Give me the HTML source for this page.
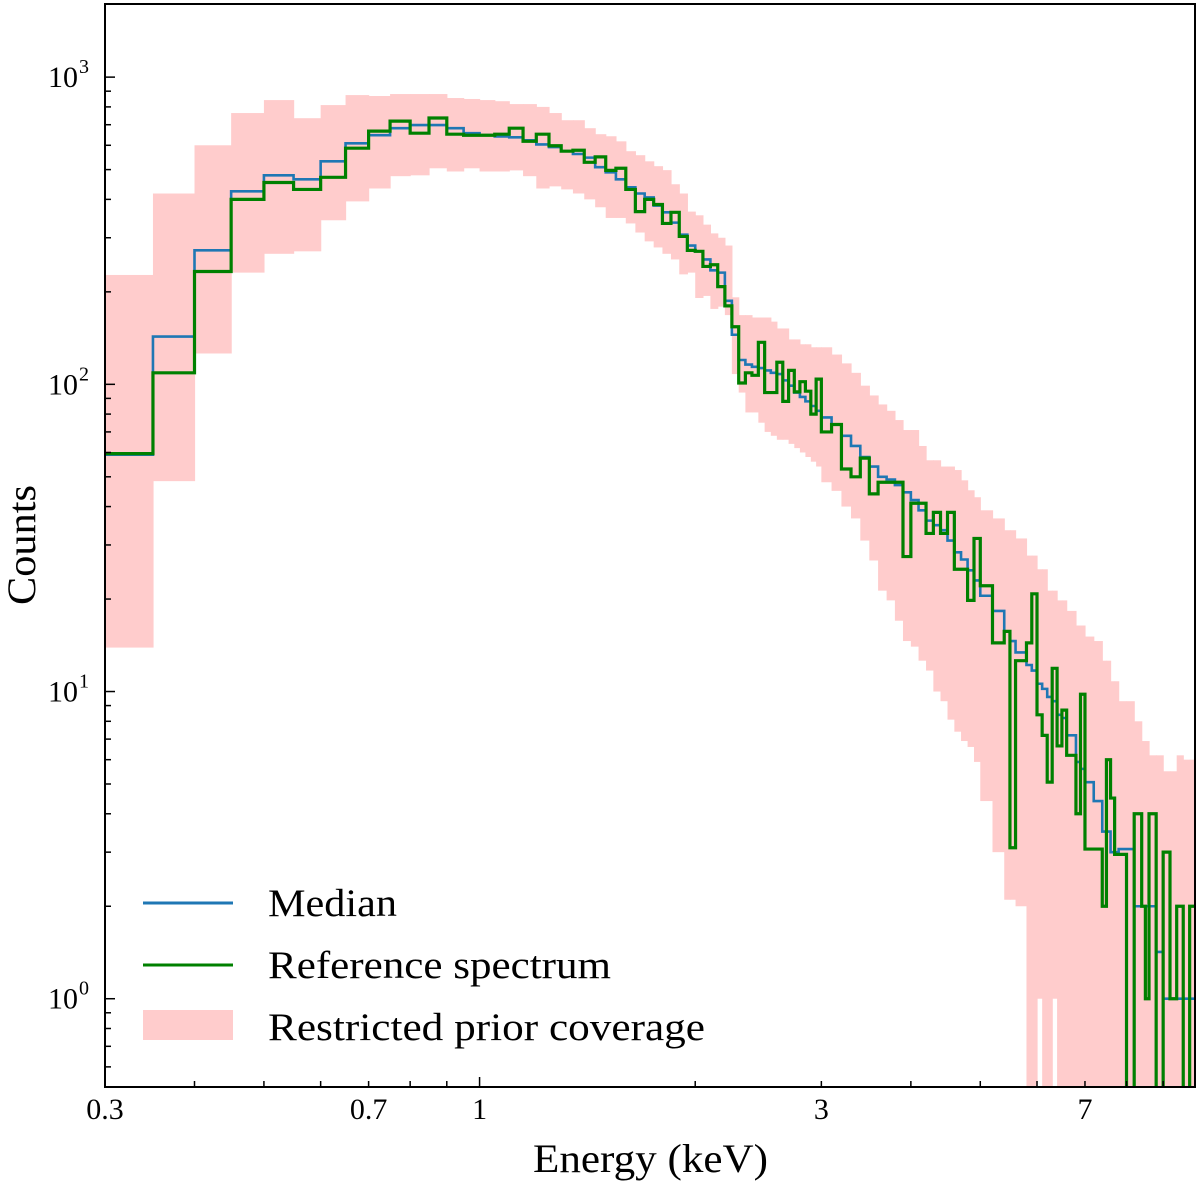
<!DOCTYPE html>
<html><head><meta charset="utf-8"><style>
body{margin:0;background:#fff;}
svg text{font-family:"Liberation Serif",serif;fill:#000;}
</style></head><body>
<svg id="chart" width="1200" height="1183" viewBox="0 0 1200 1183" xmlns="http://www.w3.org/2000/svg">
<defs><clipPath id="plotclip"><rect x="105" y="4" width="1090" height="1083"/></clipPath></defs>
<g id="band" clip-path="url(#plotclip)"></g>
<g id="lines" clip-path="url(#plotclip)"></g>
<g id="axes"></g>
<g id="legend">
  <line x1="143" y1="903" x2="233" y2="903" stroke="#1f77b4" stroke-width="3"/>
  <text x="268" y="916" font-size="39" textLength="129" lengthAdjust="spacingAndGlyphs">Median</text>
  <line x1="143" y1="965" x2="233" y2="965" stroke="#008000" stroke-width="3"/>
  <text x="268" y="978" font-size="39" textLength="343" lengthAdjust="spacingAndGlyphs">Reference spectrum</text>
  <rect x="143" y="1010" width="90" height="30" fill="#ffcccc"/>
  <text x="268" y="1040" font-size="39" textLength="437" lengthAdjust="spacingAndGlyphs">Restricted prior coverage</text>
</g>
<text x="533" y="1172" font-size="40" textLength="235" lengthAdjust="spacingAndGlyphs">Energy (keV)</text>
<text transform="translate(35,605) rotate(-90)" font-size="40" textLength="120" lengthAdjust="spacingAndGlyphs">Counts</text>
</svg>
<script>
const edges = [0.30,0.35,0.40,0.45,0.50,0.55,0.60,0.65,0.70,0.75,0.80,0.85,0.90,0.95,1.00,1.05,1.10,1.15,1.20,1.25,1.30,1.35,1.40,1.45,1.50,1.55,1.60,1.65,1.70,1.75,1.80,1.85,1.90,1.95,2.00,2.05,2.10,2.15,2.20,2.25,2.30,2.35,2.40,2.45,2.50,2.55,2.60,2.65,2.70,2.75,2.80,2.85,2.90,2.95,3.0,3.1,3.2,3.3,3.4,3.5,3.6,3.7,3.8,3.9,4.0,4.1,4.2,4.3,4.4,4.5,4.6,4.7,4.8,4.9,5.0,5.2,5.4,5.5,5.6,5.8,5.9,6.0,6.1,6.2,6.3,6.4,6.5,6.6,6.8,6.9,7.0,7.2,7.4,7.5,7.6,7.7,7.8,8.0,8.2,8.4,8.5,8.6,8.8,9.0,9.2,9.4,9.6,9.8,9.97];
const median = [59,143,273,425,479,465,532,609,647,682,698,698,682,657,647,641,637,623,604,592,574,562,547,509,490,465,438,418,406,382,363,336,307,283,271,255,235,231,187,145,120,116,114,113,111,109,108,103,99,94,91,88,85,82,78,74,68,63,58,54,50,49,47,44.5,42,38.9,36,34.8,33.5,31,28.4,26.9,24.8,23,20.5,18.3,15.7,14.6,13.4,12.2,11.7,10.6,10.2,9.6,9.3,8.4,8.2,7.2,5.9,5.6,5.07,4.4,3.5,3.5,3.0,3.0,3.07,3.07,2.0,2.0,2.0,2.0,1.42,1.0,1.0,1.0,1.0,1.0];
const reference = [59.5,109,233,400,454,431,472,587,667,719,657,736,652,647,647,652,682,618,652,598,574,578,528,550,497,505,431,365,400,385,334,363,303,273,271,242,245,208,180,154,101,109,107,137,94,94,118,88,111,94.5,102,95,80,104,70,74,53,50,57.5,44,48,48,48,27.5,41,41,32.7,38.3,32.7,38.3,25,25,19.8,31.5,22.1,14.4,15.7,3.1,12.6,14.4,20.8,8.4,7.2,5.07,11.9,6.65,8.7,6.2,4.0,9.8,3.07,3.07,2.0,6.0,4.5,2.95,2.95,0,4.0,2.0,1.0,4.0,0,3.0,1.0,2.0,0,2.0];
const lower = [13.9,48.4,126,231,266,271,342,394,434,476,479,505,493,505,493,493,497,476,434,441,431,418,400,377,348,348,334,312,292,279,266,255,228,231,191,194,176,179,168,108,94,81,81,75,70,68,66,66,64,62,60,58,56,54,48,45,40,36.6,31,26.7,21.3,19.8,17,14.6,14,12.6,11.7,10,9.3,8.1,7.4,6.9,6.6,5.9,4.4,3.0,2.1,2.1,2.0,0,0,1.0,0,0,1.0,0,0,0,0,0,0,0,0,0,0,0,0,0,0,0,0,0,0,0,0,0,0,0];
const upper = [227,418,600,764,842,735,811,874,868,881,881,881,855,849,842,835,817,817,800,764,724,724,682,652,642,618,574,557,532,513,498,448,418,365,355,331,310,300,283,192,168,168,165,165,165,160,152,152,140,140,135,135,132,132,132,125,117,109,99,92,86,82,76.5,71,71,63,56.6,56.6,54,54,52.6,48.7,45.2,42.9,38.9,36.6,33.5,33.5,31.5,27.7,27.7,25,25,21.3,21.3,19.8,19.8,18.3,16.4,16.4,15.1,14.6,12.6,12.6,10.8,10.8,9.3,9.3,8.0,6.9,6.9,6.2,6.2,5.5,5.5,6.2,6.0,6.0];
const xTickLabels = ["0.3","0.7","1","3","7"];
const xTickValues = [0.3,0.7,1,3,7];
const yTickExps = [0,1,2,3];

const X0=105, X1=1195, Y0=1087, Y1=4;
const xmin=0.3, xmax=9.97, ymin=0.516, ymax=1730;
const NS="http://www.w3.org/2000/svg";
function xs(e){return X0+(Math.log10(e)-Math.log10(xmin))/(Math.log10(xmax)-Math.log10(xmin))*(X1-X0);}
function ys(c){if(c<=0) return Y0+20; return Y0-(Math.log10(c)-Math.log10(ymin))/(Math.log10(ymax)-Math.log10(ymin))*(Y0-Y1);}
function mk(tag,attrs,parent){const el=document.createElementNS(NS,tag);for(const k in attrs)el.setAttribute(k,attrs[k]);parent.appendChild(el);return el;}

const band=document.getElementById('band');
for(let i=0;i<upper.length;i++){
  const xa=xs(edges[i]), xb=xs(edges[i+1]);
  const yt=ys(upper[i]), yb=ys(lower[i]);
  const r=mk('rect',{x:xa,y:yt,width:xb-xa+0.6,height:yb-yt,fill:'#ffcccc'},band);
  
  
}
function stepPath(vals){
  let d='M'+xs(edges[0])+' '+ys(vals[0]);
  for(let i=0;i<vals.length;i++){
    if(i>0) d+=' V'+ys(vals[i]);
    d+=' H'+xs(edges[i+1]);
  }
  return d;
}
const lines=document.getElementById('lines');
const pm=mk('path',{d:stepPath(median),fill:'none',stroke:'#1f77b4','stroke-width':2.6},lines);


const pr=mk('path',{d:stepPath(reference),fill:'none',stroke:'#008000','stroke-width':3.2},lines);



const axes=document.getElementById('axes');
const frame=mk('rect',{x:X0,y:Y1,width:X1-X0,height:Y0-Y1,fill:'none',stroke:'#000','stroke-width':2},axes);


const xMinor=[0.4,0.5,0.6,0.8,0.9,2,4,5,6,8,9];
xMinor.forEach(v=>{const t=mk('line',{x1:xs(v),x2:xs(v),y1:Y0,y2:Y0-6,stroke:'#000','stroke-width':1.5},axes);
  });
xTickValues.forEach((v,i)=>{
  const t=mk('line',{x1:xs(v),x2:xs(v),y1:Y0,y2:Y0-(v===1?10:6),stroke:'#000','stroke-width':1.5},axes);
  
  const l=mk('text',{x:xs(v),y:1119,'font-size':30,'text-anchor':'middle'},axes);
  l.textContent=xTickLabels[i];
  
});
for(let e=-1;e<=3;e++){
  for(let m=1;m<10;m++){
    const v=m*Math.pow(10,e); if(v<ymin||v>ymax) continue;
    const t=mk('line',{x1:X0,x2:X0+(m===1?10:6),y1:ys(v),y2:ys(v),stroke:'#000','stroke-width':1.5},axes);
    
  }
}
yTickExps.forEach(e=>{
  const l=mk('text',{x:78,y:ys(Math.pow(10,e))+10,'font-size':30,'text-anchor':'end'},axes);
  l.textContent='10';
  
  const s=mk('text',{x:79,y:ys(Math.pow(10,e))-4,'font-size':20,'text-anchor':'start'},axes);
  s.textContent=String(e);
  
});
</script>
</body></html>
